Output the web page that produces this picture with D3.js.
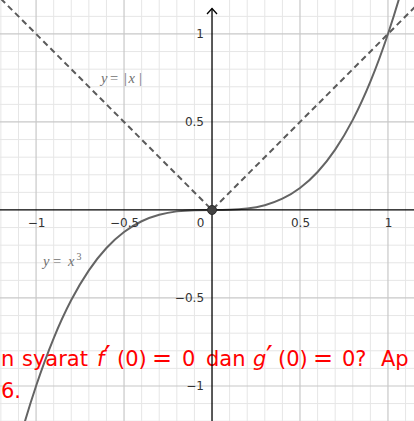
<!DOCTYPE html>
<html>
<head>
<meta charset="utf-8">
<script src="https://cdn.jsdelivr.net/npm/d3@7"></script>
<style>
  html, body { margin: 0; padding: 0; background: #fff; }
  svg { display: block; }
</style>
</head>
<body>
<svg id="chart" width="414" height="421"></svg>
<script>
// Sample points of y = x^3
const cubeX = [-1.2, -1.1, -1.0, -0.9, -0.8, -0.7, -0.6, -0.5, -0.4, -0.3, -0.2, -0.1, 0,
               0.1, 0.2, 0.3, 0.4, 0.5, 0.6, 0.7, 0.8, 0.9, 1.0, 1.1, 1.2];
const cubeY = [-1.728, -1.331, -1, -0.729, -0.512, -0.343, -0.216, -0.125, -0.064, -0.027, -0.008, -0.001, 0,
               0.001, 0.008, 0.027, 0.064, 0.125, 0.216, 0.343, 0.512, 0.729, 1, 1.331, 1.728];
// Vertices of y = |x|
const absX = [-1.2, 0, 1.2];
const absY = [1.2, 0, 1.2];
// Axis tick values
const xTicks = [-1, -0.5, 0, 0.5, 1];
const yTicks = [-1, -0.5, 0.5, 1];
// Highlighted point
const pointX = [0];
const pointY = [0];

const W = 414, H = 421;
const svg = d3.select("#chart");

const x = d3.scaleLinear().domain([-1.205, 1.148]).range([0, W]);
const y = d3.scaleLinear().domain([-1.199, 1.193]).range([H, 0]);

// Grid: minor every 0.1, major every 0.5
const gridX = d3.range(-12, 12).map(i => i / 10);
const gridY = d3.range(-12, 12).map(i => i / 10);
const isMajor = v => Math.abs(Math.round(v * 10) % 5) === 0;

const grid = svg.append("g");
grid.selectAll("line.vx").data(gridX.filter(v => !isMajor(v))).join("line")
  .attr("x1", d => x(d)).attr("x2", d => x(d)).attr("y1", 0).attr("y2", H)
  .attr("stroke", "#e6e6e6").attr("stroke-width", 1);
grid.selectAll("line.hy").data(gridY.filter(v => !isMajor(v))).join("line")
  .attr("y1", d => y(d)).attr("y2", d => y(d)).attr("x1", 0).attr("x2", W)
  .attr("stroke", "#e6e6e6").attr("stroke-width", 1);
grid.selectAll("line.vxM").data(gridX.filter(v => isMajor(v) && v !== 0)).join("line")
  .attr("x1", d => x(d)).attr("x2", d => x(d)).attr("y1", 0).attr("y2", H)
  .attr("stroke", "#c8c8c8").attr("stroke-width", 1.2);
grid.selectAll("line.hyM").data(gridY.filter(v => isMajor(v) && v !== 0)).join("line")
  .attr("y1", d => y(d)).attr("y2", d => y(d)).attr("x1", 0).attr("x2", W)
  .attr("stroke", "#c8c8c8").attr("stroke-width", 1.2);

// Red question text
const red = svg.append("g")
  .attr("fill", "#ff0000")
  .attr("font-family", "'DejaVu Sans', sans-serif")
  .attr("font-size", 21);
const line1 = [
  { t: "n", x: 1 },
  { t: "syarat", x: 22 },
  { t: "f", x: 97, it: true },
  { t: "\u2032", x: 104, fs: 30, dy: 1 },
  { t: "(0)", x: 117 },
  { t: "=", x: 152, fs: 24, dy: 0 },
  { t: "0", x: 182 },
  { t: "dan", x: 206 },
  { t: "g", x: 253, it: true },
  { t: "\u2032", x: 266, fs: 30, dy: 1 },
  { t: "(0)", x: 278 },
  { t: "=", x: 313, fs: 24, dy: 0 },
  { t: "0?", x: 342 },
  { t: "Ap", x: 381 }
];
red.selectAll("text.l1").data(line1).join("text")
  .attr("x", d => d.x).attr("y", d => 366 + (d.dy || 0))
  .attr("font-size", d => d.fs || null)
  .attr("font-style", d => d.it ? "italic" : "normal")
  .text(d => d.t);
red.append("text").attr("x", 1).attr("y", 398).text("6.");

// Curves
const line = d3.line().x(d => x(d[0])).y(d => y(d[1]));
svg.append("path")
  .datum(d3.zip(absX, absY))
  .attr("d", line)
  .attr("fill", "none")
  .attr("stroke", "#5a5a5a")
  .attr("stroke-width", 2)
  .attr("stroke-dasharray", "6,4");

svg.append("path")
  .datum(d3.zip(cubeX, cubeY))
  .attr("d", line.curve(d3.curveNatural))
  .attr("fill", "none")
  .attr("stroke", "#646464")
  .attr("stroke-width", 2);

// Axes
const axes = svg.append("g").attr("stroke", "#000").attr("stroke-width", 1.3).attr("fill", "none");
axes.append("line").attr("x1", 0).attr("x2", W).attr("y1", y(0)).attr("y2", y(0));
axes.append("line").attr("x1", x(0)).attr("x2", x(0)).attr("y1", 8.5).attr("y2", H);
axes.append("path")
  .attr("d", `M${x(0) - 5},${14} L${x(0)},${8.5} L${x(0) + 5},${14}`);

const fmt = d3.format("~g");
const xAxis = svg.append("g")
  .attr("transform", `translate(0,${y(0)})`)
  .call(d3.axisBottom(x).tickValues(xTicks).tickSize(0).tickPadding(8.5).tickFormat(fmt));
const yAxis = svg.append("g")
  .attr("transform", `translate(${x(0)},0)`)
  .call(d3.axisLeft(y).tickValues(yTicks).tickSize(0).tickPadding(8).tickFormat(fmt));
[xAxis, yAxis].forEach(g => {
  g.select(".domain").remove();
  g.selectAll("text")
    .attr("font-family", "'DejaVu Sans', sans-serif")
    .attr("font-size", 12)
    .attr("fill", "#333");
});
xAxis.selectAll(".tick").filter(d => d === 0).select("text").attr("x", -12);

// Point at the origin
svg.selectAll("circle.pt").data(d3.zip(pointX, pointY)).join("circle")
  .attr("cx", d => x(d[0])).attr("cy", d => y(d[1]))
  .attr("r", 4.5)
  .attr("fill", "#424242")
  .attr("stroke", "#2a2a2a").attr("stroke-width", 1);

// Function labels
const lab = svg.append("g")
  .attr("fill", "#707070")
  .attr("font-family", "'Liberation Serif', 'DejaVu Serif', serif")
  .attr("font-size", 14.5);
const absLabel = lab.append("text").attr("y", 83);
absLabel.append("tspan").attr("x", 101).attr("font-style", "italic").text("y");
absLabel.append("tspan").attr("x", 110).text("=");
absLabel.append("tspan").attr("x", 124).text("|");
absLabel.append("tspan").attr("x", 128.5).attr("font-style", "italic").text("x");
absLabel.append("tspan").attr("x", 139).text("|");

const cubeLabel = lab.append("text").attr("y", 266);
cubeLabel.append("tspan").attr("x", 43).attr("font-style", "italic").text("y");
cubeLabel.append("tspan").attr("x", 53).text("=");
cubeLabel.append("tspan").attr("x", 68).attr("font-style", "italic").text("x");
cubeLabel.append("tspan").attr("x", 76.5).attr("dy", -6).attr("font-size", 10).text("3");
</script>
</body>
</html>
